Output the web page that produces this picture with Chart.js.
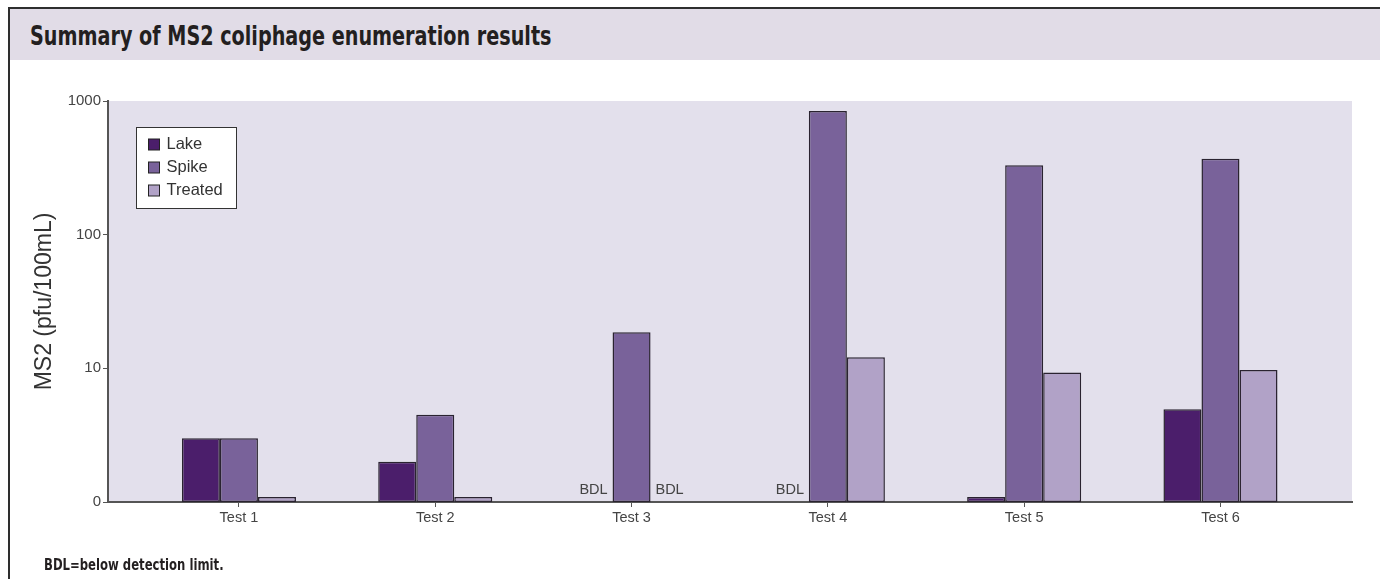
<!DOCTYPE html>
<html>
<head>
<meta charset="utf-8">
<title>Summary of MS2 coliphage enumeration results</title>
<script src="https://cdn.jsdelivr.net/npm/chart.js@4.4.0/dist/chart.umd.min.js"></script>
<style>
  html, body { margin: 0; padding: 0; background: #fff; }
  body { width: 1380px; height: 579px; position: relative; overflow: hidden; }
  .frame {
    position: absolute; left: 8px; top: 7px; right: 0; bottom: 0;
    border-left: 2px solid #2e2e2e; border-top: 2px solid #2e2e2e;
  }
  .title-band {
    position: absolute; left: 10px; top: 9px; right: 0; height: 51px;
    background: #e1dce7;
  }
  .title-band h1 {
    margin: 0; position: absolute; left: 20px; top: 0;
    font: bold 27px 'Liberation Sans Narrow', 'DejaVu Sans Condensed', sans-serif;
    line-height: 54px;
    white-space: nowrap;
    transform: scaleX(0.79);
    transform-origin: left center;
    color: #231f20;
  }
  .chart-box { position: absolute; left: 10px; top: 60px; width: 1370px; height: 519px; }
  .note {
    position: absolute; left: 44px; top: 555px;
    font: bold 16px 'Liberation Sans Narrow', 'DejaVu Sans Condensed', sans-serif;
    white-space: nowrap;
    transform: scaleX(0.81);
    transform-origin: left center;
    color: #231f20;
  }
</style>
</head>
<body>
<div class="frame"></div>
<div class="title-band"><h1>Summary of MS2 coliphage enumeration results</h1></div>
<div class="chart-box"><canvas id="ms2-chart"></canvas></div>
<div class="note">BDL=below detection limit.</div>

<script>
// values; null = below detection limit (BDL)
var categories = ['Test 1', 'Test 2', 'Test 3', 'Test 4', 'Test 5', 'Test 6'];
var lake = [3.0, 2.0, null, null, 1.09, 4.95];
var spike = [3.0, 4.5, 18.6, 840, 330, 370];
var treated = [1.09, 1.09, null, 12.1, 9.3, 9.7];
var yTicks = [1, 10, 100, 1000];
var yTickLabels = ['0', '10', '100', '1000'];

Chart.defaults.font.family = "'Liberation Sans', Arial, sans-serif";
Chart.defaults.color = '#444';

function toPoints(values) {
    return values.map(function (v, i) {
        return { x: i + 1, y: v };
    });
}

const plotBackground = {
    id: 'plotBackground',
    beforeDraw: function (chart) {
        const { ctx, chartArea } = chart;
        ctx.save();
        ctx.fillStyle = '#e3e0ec';
        ctx.fillRect(chartArea.left, chartArea.top, chartArea.right - chartArea.left, chartArea.bottom - chartArea.top);
        ctx.restore();
    },
};

const bdlLabels = {
    id: 'bdlLabels',
    afterDatasetsDraw: function (chart) {
        const { ctx, chartArea } = chart;
        ctx.save();
        ctx.font = "14.5px 'Liberation Sans', Arial, sans-serif";
        ctx.fillStyle = '#444';
        ctx.textAlign = 'center';
        ctx.textBaseline = 'middle';
        chart.data.datasets.forEach(function (ds, i) {
            const meta = chart.getDatasetMeta(i);
            ds.data.forEach(function (p, j) {
                if (p.y === null && meta.data[j]) {
                    ctx.fillText('BDL', meta.data[j].x, chartArea.bottom - 12);
                }
            });
        });
        ctx.restore();
    },
};

const boxLegend = {
    id: 'boxLegend',
    afterDraw: function (chart) {
        const { ctx, chartArea } = chart;
        const x = chartArea.left + 28.5;
        const y = chartArea.top + 26.5;
        ctx.save();
        ctx.fillStyle = '#fff';
        ctx.fillRect(x, y, 100, 81);
        ctx.strokeStyle = '#333';
        ctx.lineWidth = 1;
        ctx.strokeRect(x, y, 100, 81);
        ctx.font = "16.5px 'Liberation Sans', Arial, sans-serif";
        ctx.textBaseline = 'middle';
        chart.data.datasets.forEach(function (ds, i) {
            const cy = y + 17 + i * 23;
            ctx.fillStyle = ds.backgroundColor;
            ctx.fillRect(x + 12, cy - 5.5, 11, 11);
            ctx.strokeStyle = '#222';
            ctx.strokeRect(x + 12, cy - 5.5, 11, 11);
            ctx.fillStyle = '#333';
            ctx.fillText(ds.label, x + 30, cy);
        });
        ctx.restore();
    },
};

const barStyle = {
    borderColor: '#2a2330',
    borderWidth: 1.5,
    borderSkipped: false,
    barPercentage: 1,
    categoryPercentage: 0.581,
};

new Chart(document.getElementById('ms2-chart'), {
    type: 'bar',
    data: {
        datasets: [
            Object.assign({ label: 'Lake', data: toPoints(lake), backgroundColor: '#4b1e6b' }, barStyle),
            Object.assign({ label: 'Spike', data: toPoints(spike), backgroundColor: '#79629a' }, barStyle),
            Object.assign({ label: 'Treated', data: toPoints(treated), backgroundColor: '#b1a2c7' }, barStyle),
        ],
    },
    options: {
        responsive: true,
        maintainAspectRatio: false,
        animation: false,
        layout: {
            padding: { left: 0, top: 41, right: 28, bottom: 0 },
        },
        scales: {
            x: {
                type: 'linear',
                min: 0.333,
                max: 6.67,
                offset: false,
                afterBuildTicks: function (scale) {
                    scale.ticks = categories.map(function (c, i) {
                        return { value: i + 1 };
                    });
                },
                afterFit: function (scale) {
                    scale.height = 77;
                },
                grid: {
                    offset: false,
                    drawOnChartArea: false,
                    drawTicks: true,
                    tickLength: 5,
                    color: '#555',
                },
                border: { display: true, color: '#555', width: 2 },
                ticks: {
                    font: { size: 14.5 },
                    color: '#444',
                    padding: 2,
                    maxRotation: 0,
                    autoSkip: false,
                    callback: function (value) {
                        return categories[value - 1];
                    },
                },
            },
            y: {
                type: 'logarithmic',
                min: 1,
                max: 1000,
                afterBuildTicks: function (scale) {
                    scale.ticks = yTicks.map(function (v) {
                        return { value: v };
                    });
                },
                afterFit: function (scale) {
                    scale.width = 98;
                },
                grid: {
                    drawOnChartArea: false,
                    drawTicks: true,
                    tickLength: 5,
                    color: '#555',
                },
                border: { display: true, color: '#555', width: 2 },
                ticks: {
                    font: { size: 15 },
                    color: '#444',
                    padding: 2,
                    autoSkip: false,
                    callback: function (value) {
                        return yTickLabels[yTicks.indexOf(value)];
                    },
                },
                title: {
                    display: true,
                    text: 'MS2 (pfu/100mL)',
                    font: { size: 23 },
                    color: '#333',
                    padding: { top: 21, bottom: 0 },
                },
            },
        },
        plugins: {
            legend: { display: false },
            title: { display: false },
            tooltip: { enabled: false },
        },
    },
    plugins: [plotBackground, bdlLabels, boxLegend],
});
</script>
</body>
</html>
